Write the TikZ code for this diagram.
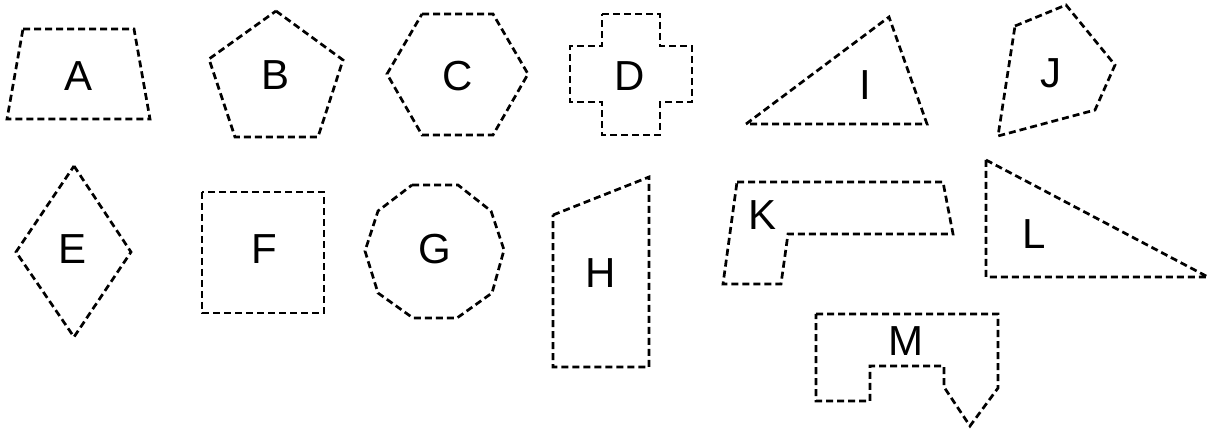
\documentclass[tikz,border=0pt]{standalone}
\usepackage{fontspec}
\setmainfont{Liberation Sans}
\begin{document}
\begin{tikzpicture}[x=1pt,y=-1pt,
  shp/.style={draw=black,line width=2.7pt,dash pattern=on 7pt off 4pt,line join=miter},
  lbl/.style={inner sep=0pt,text height=30pt,text depth=0pt,font=\fontsize{42}{48}\selectfont}]
\useasboundingbox (0,0) rectangle (1210,430);
% A trapezoid
\draw[shp] (23,29) -- (134,29) -- (150,119) -- (7,119) -- cycle;
\node[lbl] (lA) at (78.5,75.5) {A};
% B pentagon
\draw[shp] (276,11) -- (343,60) -- (318,137) -- (235,137) -- (209,59) -- cycle;
\node[lbl] (lB) at (276,75) {B};
% C hexagon
\draw[shp] (422,14) -- (493,14) -- (528,74) -- (493,135) -- (422,135) -- (387,74) -- cycle;
\node[lbl] (lC) at (457.5,76) {C};
% D cross
\draw[shp] (602,14) -- (660,14) -- (660,46) -- (692,46) -- (692,102) -- (660,102) -- (660,135) -- (602,135) -- (602,102) -- (570,102) -- (570,46) -- (602,46) -- cycle;
\node[lbl] (lD) at (630,76) {D};
% I triangle
\draw[shp] (746,124) -- (889,17) -- (927,124) -- cycle;
\node[lbl] (lI) at (865,84.5) {I};
% J pentagon
\draw[shp] (1015,26) -- (1066,5) -- (1115,65) -- (1095,110) -- (998,136) -- cycle;
\node[lbl] (lJ) at (1051,73) {J};
% E diamond
\draw[shp] (74,166) -- (131,252) -- (74,337) -- (16,252) -- cycle;
\node[lbl] (lE) at (73,249) {E};
% F square
\draw[shp] (202,192) rectangle (324,313);
\node[lbl] (lF) at (264,249) {F};
% G decagon
\draw[shp] (412,185) -- (458,185) -- (491,211) -- (504,250) -- (492,293) -- (457,318) -- (413,318) -- (378,293) -- (365,251) -- (378,211) -- cycle;
\node[lbl] (lG) at (435,249) {G};
% H
\draw[shp] (553,215) -- (649,177) -- (649,367) -- (553,367) -- cycle;
\node[lbl] (lH) at (601,272.5) {H};
% K
\draw[shp] (737,182) -- (943,182) -- (953,234) -- (788,234) -- (781,284) -- (723,284) -- cycle;
\node[lbl] (lK) at (762.5,215) {K};
% L
\draw[shp] (986,160) -- (1208,277) -- (986,277) -- cycle;
\node[lbl] (lL) at (1034,234) {L};
% M
\draw[shp] (816,314) -- (998,314) -- (998,388) -- (970,426) -- (944,387) -- (944,366) -- (870,366) -- (870,401) -- (816,401) -- cycle;
\node[lbl] (lM) at (906,340) {M};
\end{tikzpicture}
\end{document}
